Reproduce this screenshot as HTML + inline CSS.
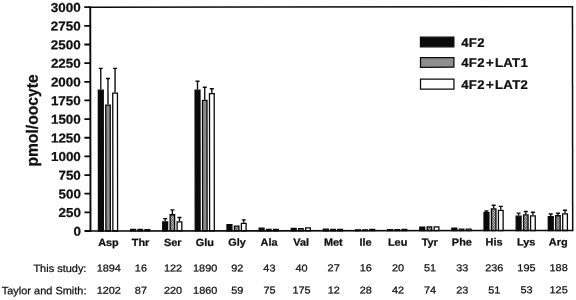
<!DOCTYPE html>
<html><head><meta charset="utf-8"><title>chart</title>
<style>
html,body{margin:0;padding:0;background:#fff;}
body{width:576px;height:300px;overflow:hidden;}
svg{display:block;}
text{font-family:"Liberation Sans",Arial,Helvetica,sans-serif;fill:#111;stroke:#111;stroke-width:0.25;text-rendering:geometricPrecision;}
.b{font-weight:bold;}
</style></head><body>
<svg width="576" height="300" viewBox="0 0 576 300">
<defs>
<pattern id="g" width="1.15" height="1.15" patternUnits="userSpaceOnUse" patternTransform="rotate(45)"><rect width="1.15" height="1.15" fill="#4c4c4c"/><rect width="0.72" height="0.72" fill="#e2e2e2"/></pattern>
</defs>
<rect width="576" height="300" fill="#fff"/>
<g transform="rotate(-0.06 288 150)">

<line x1="100.85" y1="89.30" x2="100.85" y2="68.20" stroke="#0a0a0a" stroke-width="1.35"/>
<line x1="98.85" y1="68.20" x2="102.85" y2="68.20" stroke="#0a0a0a" stroke-width="1.4"/>
<rect x="98.40" y="89.95" width="4.90" height="140.85" fill="#0a0a0a" stroke="#0a0a0a" stroke-width="1.3"/>
<line x1="108.05" y1="104.20" x2="108.05" y2="78.30" stroke="#0a0a0a" stroke-width="1.35"/>
<line x1="106.05" y1="78.30" x2="110.05" y2="78.30" stroke="#0a0a0a" stroke-width="1.4"/>
<rect x="105.80" y="104.85" width="4.50" height="125.95" fill="#8c8c8c" stroke="#0a0a0a" stroke-width="1.3"/>
<line x1="115.15" y1="92.20" x2="115.15" y2="68.20" stroke="#0a0a0a" stroke-width="1.35"/>
<line x1="113.15" y1="68.20" x2="117.15" y2="68.20" stroke="#0a0a0a" stroke-width="1.4"/>
<rect x="112.80" y="92.85" width="4.70" height="137.95" fill="#ffffff" stroke="#0a0a0a" stroke-width="1.3"/>
<rect x="130.53" y="229.35" width="4.90" height="1.45" fill="#0a0a0a" stroke="#0a0a0a" stroke-width="1.3"/>
<rect x="137.93" y="229.35" width="4.50" height="1.45" fill="url(#g)" stroke="#0a0a0a" stroke-width="1.3"/>
<rect x="144.93" y="229.45" width="4.70" height="1.35" fill="#ffffff" stroke="#0a0a0a" stroke-width="1.3"/>
<line x1="165.11" y1="221.20" x2="165.11" y2="218.50" stroke="#0a0a0a" stroke-width="1.35"/>
<line x1="163.11" y1="218.50" x2="167.11" y2="218.50" stroke="#0a0a0a" stroke-width="1.4"/>
<rect x="162.66" y="221.85" width="4.90" height="8.95" fill="#0a0a0a" stroke="#0a0a0a" stroke-width="1.3"/>
<line x1="172.31" y1="214.00" x2="172.31" y2="209.80" stroke="#0a0a0a" stroke-width="1.35"/>
<line x1="170.31" y1="209.80" x2="174.31" y2="209.80" stroke="#0a0a0a" stroke-width="1.4"/>
<rect x="170.06" y="214.65" width="4.50" height="16.15" fill="url(#g)" stroke="#0a0a0a" stroke-width="1.3"/>
<line x1="179.41" y1="221.10" x2="179.41" y2="217.40" stroke="#0a0a0a" stroke-width="1.35"/>
<line x1="177.41" y1="217.40" x2="181.41" y2="217.40" stroke="#0a0a0a" stroke-width="1.4"/>
<rect x="177.06" y="221.75" width="4.70" height="9.05" fill="#ffffff" stroke="#0a0a0a" stroke-width="1.3"/>
<line x1="197.59" y1="89.40" x2="197.59" y2="81.20" stroke="#0a0a0a" stroke-width="1.35"/>
<line x1="195.59" y1="81.20" x2="199.59" y2="81.20" stroke="#0a0a0a" stroke-width="1.4"/>
<rect x="195.14" y="90.05" width="4.90" height="140.75" fill="#0a0a0a" stroke="#0a0a0a" stroke-width="1.3"/>
<line x1="204.79" y1="99.70" x2="204.79" y2="87.20" stroke="#0a0a0a" stroke-width="1.35"/>
<line x1="202.79" y1="87.20" x2="206.79" y2="87.20" stroke="#0a0a0a" stroke-width="1.4"/>
<rect x="202.54" y="100.35" width="4.50" height="130.45" fill="#8c8c8c" stroke="#0a0a0a" stroke-width="1.3"/>
<line x1="211.89" y1="92.80" x2="211.89" y2="88.70" stroke="#0a0a0a" stroke-width="1.35"/>
<line x1="209.89" y1="88.70" x2="213.89" y2="88.70" stroke="#0a0a0a" stroke-width="1.4"/>
<rect x="209.54" y="93.45" width="4.70" height="137.35" fill="#ffffff" stroke="#0a0a0a" stroke-width="1.3"/>
<rect x="226.92" y="224.65" width="4.90" height="6.15" fill="#0a0a0a" stroke="#0a0a0a" stroke-width="1.3"/>
<rect x="234.32" y="226.15" width="4.50" height="4.65" fill="url(#g)" stroke="#0a0a0a" stroke-width="1.3"/>
<line x1="243.67" y1="222.70" x2="243.67" y2="219.80" stroke="#0a0a0a" stroke-width="1.35"/>
<line x1="241.67" y1="219.80" x2="245.67" y2="219.80" stroke="#0a0a0a" stroke-width="1.4"/>
<rect x="241.32" y="223.35" width="4.70" height="7.45" fill="#ffffff" stroke="#0a0a0a" stroke-width="1.3"/>
<rect x="259.05" y="228.15" width="4.90" height="2.65" fill="#0a0a0a" stroke="#0a0a0a" stroke-width="1.3"/>
<rect x="266.45" y="229.45" width="4.50" height="1.35" fill="url(#g)" stroke="#0a0a0a" stroke-width="1.3"/>
<rect x="273.45" y="229.35" width="4.70" height="1.45" fill="#ffffff" stroke="#0a0a0a" stroke-width="1.3"/>
<rect x="291.18" y="228.35" width="4.90" height="2.45" fill="#0a0a0a" stroke="#0a0a0a" stroke-width="1.3"/>
<rect x="298.58" y="228.55" width="4.50" height="2.25" fill="url(#g)" stroke="#0a0a0a" stroke-width="1.3"/>
<rect x="305.58" y="227.85" width="4.70" height="2.95" fill="#ffffff" stroke="#0a0a0a" stroke-width="1.3"/>
<rect x="323.31" y="229.25" width="4.90" height="1.55" fill="#0a0a0a" stroke="#0a0a0a" stroke-width="1.3"/>
<rect x="330.71" y="229.35" width="4.50" height="1.45" fill="url(#g)" stroke="#0a0a0a" stroke-width="1.3"/>
<rect x="337.71" y="229.35" width="4.70" height="1.45" fill="#ffffff" stroke="#0a0a0a" stroke-width="1.3"/>
<rect x="355.44" y="229.95" width="4.90" height="0.85" fill="#0a0a0a" stroke="#0a0a0a" stroke-width="1.3"/>
<rect x="362.84" y="229.95" width="4.50" height="0.85" fill="url(#g)" stroke="#0a0a0a" stroke-width="1.3"/>
<rect x="369.84" y="229.55" width="4.70" height="1.25" fill="#ffffff" stroke="#0a0a0a" stroke-width="1.3"/>
<rect x="387.57" y="229.75" width="4.90" height="1.05" fill="#0a0a0a" stroke="#0a0a0a" stroke-width="1.3"/>
<rect x="394.97" y="229.75" width="4.50" height="1.05" fill="url(#g)" stroke="#0a0a0a" stroke-width="1.3"/>
<rect x="401.97" y="229.45" width="4.70" height="1.35" fill="#ffffff" stroke="#0a0a0a" stroke-width="1.3"/>
<rect x="419.70" y="227.25" width="4.90" height="3.55" fill="#0a0a0a" stroke="#0a0a0a" stroke-width="1.3"/>
<rect x="427.10" y="227.05" width="4.50" height="3.75" fill="url(#g)" stroke="#0a0a0a" stroke-width="1.3"/>
<rect x="434.10" y="227.05" width="4.70" height="3.75" fill="#ffffff" stroke="#0a0a0a" stroke-width="1.3"/>
<rect x="451.83" y="228.25" width="4.90" height="2.55" fill="#0a0a0a" stroke="#0a0a0a" stroke-width="1.3"/>
<rect x="459.23" y="229.35" width="4.50" height="1.45" fill="url(#g)" stroke="#0a0a0a" stroke-width="1.3"/>
<rect x="466.23" y="229.35" width="4.70" height="1.45" fill="#ffffff" stroke="#0a0a0a" stroke-width="1.3"/>
<line x1="486.41" y1="212.20" x2="486.41" y2="211.20" stroke="#0a0a0a" stroke-width="1.35"/>
<line x1="484.41" y1="211.20" x2="488.41" y2="211.20" stroke="#0a0a0a" stroke-width="1.4"/>
<rect x="483.96" y="212.85" width="4.90" height="17.95" fill="#0a0a0a" stroke="#0a0a0a" stroke-width="1.3"/>
<line x1="493.61" y1="208.40" x2="493.61" y2="205.40" stroke="#0a0a0a" stroke-width="1.35"/>
<line x1="491.61" y1="205.40" x2="495.61" y2="205.40" stroke="#0a0a0a" stroke-width="1.4"/>
<rect x="491.36" y="209.05" width="4.50" height="21.75" fill="url(#g)" stroke="#0a0a0a" stroke-width="1.3"/>
<line x1="500.71" y1="210.00" x2="500.71" y2="206.60" stroke="#0a0a0a" stroke-width="1.35"/>
<line x1="498.71" y1="206.60" x2="502.71" y2="206.60" stroke="#0a0a0a" stroke-width="1.4"/>
<rect x="498.36" y="210.65" width="4.70" height="20.15" fill="#ffffff" stroke="#0a0a0a" stroke-width="1.3"/>
<line x1="518.54" y1="215.80" x2="518.54" y2="213.40" stroke="#0a0a0a" stroke-width="1.35"/>
<line x1="516.54" y1="213.40" x2="520.54" y2="213.40" stroke="#0a0a0a" stroke-width="1.4"/>
<rect x="516.09" y="216.45" width="4.90" height="14.35" fill="#0a0a0a" stroke="#0a0a0a" stroke-width="1.3"/>
<line x1="525.74" y1="214.50" x2="525.74" y2="211.70" stroke="#0a0a0a" stroke-width="1.35"/>
<line x1="523.74" y1="211.70" x2="527.74" y2="211.70" stroke="#0a0a0a" stroke-width="1.4"/>
<rect x="523.49" y="215.15" width="4.50" height="15.65" fill="url(#g)" stroke="#0a0a0a" stroke-width="1.3"/>
<line x1="532.84" y1="215.40" x2="532.84" y2="212.50" stroke="#0a0a0a" stroke-width="1.35"/>
<line x1="530.84" y1="212.50" x2="534.84" y2="212.50" stroke="#0a0a0a" stroke-width="1.4"/>
<rect x="530.49" y="216.05" width="4.70" height="14.75" fill="#ffffff" stroke="#0a0a0a" stroke-width="1.3"/>
<line x1="550.67" y1="216.20" x2="550.67" y2="214.30" stroke="#0a0a0a" stroke-width="1.35"/>
<line x1="548.67" y1="214.30" x2="552.67" y2="214.30" stroke="#0a0a0a" stroke-width="1.4"/>
<rect x="548.22" y="216.85" width="4.90" height="13.95" fill="#0a0a0a" stroke="#0a0a0a" stroke-width="1.3"/>
<line x1="557.87" y1="215.40" x2="557.87" y2="213.60" stroke="#0a0a0a" stroke-width="1.35"/>
<line x1="555.87" y1="213.60" x2="559.87" y2="213.60" stroke="#0a0a0a" stroke-width="1.4"/>
<rect x="555.62" y="216.05" width="4.50" height="14.75" fill="url(#g)" stroke="#0a0a0a" stroke-width="1.3"/>
<line x1="564.97" y1="213.60" x2="564.97" y2="210.60" stroke="#0a0a0a" stroke-width="1.35"/>
<line x1="562.97" y1="210.60" x2="566.97" y2="210.60" stroke="#0a0a0a" stroke-width="1.4"/>
<rect x="562.62" y="214.25" width="4.70" height="16.55" fill="#ffffff" stroke="#0a0a0a" stroke-width="1.3"/>
<line x1="90.4" y1="6.25" x2="90.4" y2="231.60000000000002" stroke="#0a0a0a" stroke-width="1.9"/>
<line x1="90.4" y1="7.0" x2="573.35" y2="7.0" stroke="#0a0a0a" stroke-width="1.5"/>
<line x1="572.6" y1="7.0" x2="572.6" y2="231.60000000000002" stroke="#0a0a0a" stroke-width="1.5"/>
<line x1="90.4" y1="230.8" x2="572.6" y2="230.8" stroke="#0a0a0a" stroke-width="1.6"/>
<line x1="84.4" y1="230.80" x2="90.4" y2="230.80" stroke="#0a0a0a" stroke-width="1.8"/>
<text class="b" transform="translate(80.8,235.45) scale(1.04,1)" text-anchor="end" font-size="12.9" stroke-width="0.35">0</text>
<line x1="84.4" y1="212.15" x2="90.4" y2="212.15" stroke="#0a0a0a" stroke-width="1.8"/>
<text class="b" transform="translate(80.8,216.80) scale(1.04,1)" text-anchor="end" font-size="12.9" stroke-width="0.35">250</text>
<line x1="84.4" y1="193.50" x2="90.4" y2="193.50" stroke="#0a0a0a" stroke-width="1.8"/>
<text class="b" transform="translate(80.8,198.15) scale(1.04,1)" text-anchor="end" font-size="12.9" stroke-width="0.35">500</text>
<line x1="84.4" y1="174.85" x2="90.4" y2="174.85" stroke="#0a0a0a" stroke-width="1.8"/>
<text class="b" transform="translate(80.8,179.50) scale(1.04,1)" text-anchor="end" font-size="12.9" stroke-width="0.35">750</text>
<line x1="84.4" y1="156.20" x2="90.4" y2="156.20" stroke="#0a0a0a" stroke-width="1.8"/>
<text class="b" transform="translate(80.8,160.85) scale(1.04,1)" text-anchor="end" font-size="12.9" stroke-width="0.35">1000</text>
<line x1="84.4" y1="137.55" x2="90.4" y2="137.55" stroke="#0a0a0a" stroke-width="1.8"/>
<text class="b" transform="translate(80.8,142.20) scale(1.04,1)" text-anchor="end" font-size="12.9" stroke-width="0.35">1250</text>
<line x1="84.4" y1="118.90" x2="90.4" y2="118.90" stroke="#0a0a0a" stroke-width="1.8"/>
<text class="b" transform="translate(80.8,123.55) scale(1.04,1)" text-anchor="end" font-size="12.9" stroke-width="0.35">1500</text>
<line x1="84.4" y1="100.25" x2="90.4" y2="100.25" stroke="#0a0a0a" stroke-width="1.8"/>
<text class="b" transform="translate(80.8,104.90) scale(1.04,1)" text-anchor="end" font-size="12.9" stroke-width="0.35">1750</text>
<line x1="84.4" y1="81.60" x2="90.4" y2="81.60" stroke="#0a0a0a" stroke-width="1.8"/>
<text class="b" transform="translate(80.8,86.25) scale(1.04,1)" text-anchor="end" font-size="12.9" stroke-width="0.35">2000</text>
<line x1="84.4" y1="62.95" x2="90.4" y2="62.95" stroke="#0a0a0a" stroke-width="1.8"/>
<text class="b" transform="translate(80.8,67.60) scale(1.04,1)" text-anchor="end" font-size="12.9" stroke-width="0.35">2250</text>
<line x1="84.4" y1="44.30" x2="90.4" y2="44.30" stroke="#0a0a0a" stroke-width="1.8"/>
<text class="b" transform="translate(80.8,48.95) scale(1.04,1)" text-anchor="end" font-size="12.9" stroke-width="0.35">2500</text>
<line x1="84.4" y1="25.65" x2="90.4" y2="25.65" stroke="#0a0a0a" stroke-width="1.8"/>
<text class="b" transform="translate(80.8,30.30) scale(1.04,1)" text-anchor="end" font-size="12.9" stroke-width="0.35">2750</text>
<line x1="84.4" y1="7.00" x2="90.4" y2="7.00" stroke="#0a0a0a" stroke-width="1.8"/>
<text class="b" transform="translate(80.8,11.65) scale(1.04,1)" text-anchor="end" font-size="12.9" stroke-width="0.35">3000</text>
<text class="b" transform="translate(37.8,120.25) rotate(-90) scale(0.955,1)" text-anchor="middle" font-size="16.4" stroke-width="0.45">pmol/oocyte</text>
<rect x="420.6" y="37.3" width="33.4" height="9.7" fill="#0a0a0a" stroke="#0a0a0a" stroke-width="1.25"/>
<text class="b" transform="translate(461.3,47.3) scale(1.045,1)" font-size="12.6" letter-spacing="0.3" stroke-width="0.35">4F2</text>
<rect x="420.6" y="57.7" width="33.4" height="9.7" fill="#8e8e8e" stroke="#0a0a0a" stroke-width="1.25"/>
<text class="b" transform="translate(461.3,67.2) scale(1.045,1)" font-size="12.6" letter-spacing="0.3" stroke-width="0.35">4F2<tspan dx="1.0">+</tspan><tspan dx="1.0">LAT1</tspan></text>
<rect x="420.6" y="79.3" width="33.4" height="10.0" fill="#ffffff" stroke="#0a0a0a" stroke-width="1.25"/>
<text class="b" transform="translate(461.3,89.3) scale(1.045,1)" font-size="12.6" letter-spacing="0.3" stroke-width="0.35">4F2<tspan dx="1.0">+</tspan><tspan dx="1.0">LAT2</tspan></text>
<text class="b" transform="translate(108.35,245.8) scale(1.05,1)" text-anchor="middle" font-size="10.4">Asp</text>
<text transform="translate(108.65,271.4) scale(1.09,1)" text-anchor="middle" font-size="10.0">1894</text>
<text transform="translate(108.65,293.6) scale(1.09,1)" text-anchor="middle" font-size="10.0">1202</text>
<text class="b" transform="translate(140.48,245.8) scale(1.05,1)" text-anchor="middle" font-size="10.4">Thr</text>
<text transform="translate(140.78,271.4) scale(1.09,1)" text-anchor="middle" font-size="10.0">16</text>
<text transform="translate(140.78,293.6) scale(1.09,1)" text-anchor="middle" font-size="10.0">87</text>
<text class="b" transform="translate(172.61,245.8) scale(1.05,1)" text-anchor="middle" font-size="10.4">Ser</text>
<text transform="translate(172.91,271.4) scale(1.09,1)" text-anchor="middle" font-size="10.0">122</text>
<text transform="translate(172.91,293.6) scale(1.09,1)" text-anchor="middle" font-size="10.0">220</text>
<text class="b" transform="translate(204.74,245.8) scale(1.05,1)" text-anchor="middle" font-size="10.4">Glu</text>
<text transform="translate(205.04,271.4) scale(1.09,1)" text-anchor="middle" font-size="10.0">1890</text>
<text transform="translate(205.04,293.6) scale(1.09,1)" text-anchor="middle" font-size="10.0">1860</text>
<text class="b" transform="translate(236.87,245.8) scale(1.05,1)" text-anchor="middle" font-size="10.4">Gly</text>
<text transform="translate(237.17,271.4) scale(1.09,1)" text-anchor="middle" font-size="10.0">92</text>
<text transform="translate(237.17,293.6) scale(1.09,1)" text-anchor="middle" font-size="10.0">59</text>
<text class="b" transform="translate(269.00,245.8) scale(1.05,1)" text-anchor="middle" font-size="10.4">Ala</text>
<text transform="translate(269.30,271.4) scale(1.09,1)" text-anchor="middle" font-size="10.0">43</text>
<text transform="translate(269.30,293.6) scale(1.09,1)" text-anchor="middle" font-size="10.0">75</text>
<text class="b" transform="translate(301.13,245.8) scale(1.05,1)" text-anchor="middle" font-size="10.4">Val</text>
<text transform="translate(301.43,271.4) scale(1.09,1)" text-anchor="middle" font-size="10.0">40</text>
<text transform="translate(301.43,293.6) scale(1.09,1)" text-anchor="middle" font-size="10.0">175</text>
<text class="b" transform="translate(333.26,245.8) scale(1.05,1)" text-anchor="middle" font-size="10.4">Met</text>
<text transform="translate(333.56,271.4) scale(1.09,1)" text-anchor="middle" font-size="10.0">27</text>
<text transform="translate(333.56,293.6) scale(1.09,1)" text-anchor="middle" font-size="10.0">12</text>
<text class="b" transform="translate(365.39,245.8) scale(1.05,1)" text-anchor="middle" font-size="10.4">Ile</text>
<text transform="translate(365.69,271.4) scale(1.09,1)" text-anchor="middle" font-size="10.0">16</text>
<text transform="translate(365.69,293.6) scale(1.09,1)" text-anchor="middle" font-size="10.0">28</text>
<text class="b" transform="translate(397.52,245.8) scale(1.05,1)" text-anchor="middle" font-size="10.4">Leu</text>
<text transform="translate(397.82,271.4) scale(1.09,1)" text-anchor="middle" font-size="10.0">20</text>
<text transform="translate(397.82,293.6) scale(1.09,1)" text-anchor="middle" font-size="10.0">42</text>
<text class="b" transform="translate(429.65,245.8) scale(1.05,1)" text-anchor="middle" font-size="10.4">Tyr</text>
<text transform="translate(429.95,271.4) scale(1.09,1)" text-anchor="middle" font-size="10.0">51</text>
<text transform="translate(429.95,293.6) scale(1.09,1)" text-anchor="middle" font-size="10.0">74</text>
<text class="b" transform="translate(461.78,245.8) scale(1.05,1)" text-anchor="middle" font-size="10.4">Phe</text>
<text transform="translate(462.08,271.4) scale(1.09,1)" text-anchor="middle" font-size="10.0">33</text>
<text transform="translate(462.08,293.6) scale(1.09,1)" text-anchor="middle" font-size="10.0">23</text>
<text class="b" transform="translate(493.91,245.8) scale(1.05,1)" text-anchor="middle" font-size="10.4">His</text>
<text transform="translate(494.21,271.4) scale(1.09,1)" text-anchor="middle" font-size="10.0">236</text>
<text transform="translate(494.21,293.6) scale(1.09,1)" text-anchor="middle" font-size="10.0">51</text>
<text class="b" transform="translate(526.04,245.8) scale(1.05,1)" text-anchor="middle" font-size="10.4">Lys</text>
<text transform="translate(526.34,271.4) scale(1.09,1)" text-anchor="middle" font-size="10.0">195</text>
<text transform="translate(526.34,293.6) scale(1.09,1)" text-anchor="middle" font-size="10.0">53</text>
<text class="b" transform="translate(558.17,245.8) scale(1.05,1)" text-anchor="middle" font-size="10.4">Arg</text>
<text transform="translate(558.47,271.4) scale(1.09,1)" text-anchor="middle" font-size="10.0">188</text>
<text transform="translate(558.47,293.6) scale(1.09,1)" text-anchor="middle" font-size="10.0">125</text>
<text transform="translate(86.3,271.7) scale(1.035,1)" text-anchor="end" font-size="10.6">This study:</text>
<text transform="translate(86.3,294.0) scale(1.035,1)" text-anchor="end" font-size="10.6">Taylor and Smith:</text>
</g></svg></body></html>
